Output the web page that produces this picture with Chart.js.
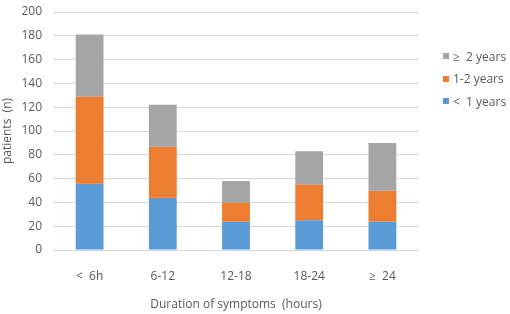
<!DOCTYPE html>
<html lang="en">
  <head>
    <meta charset="UTF-8" />
    <title>Duration of symptoms</title>
    <script src="https://cdn.jsdelivr.net/npm/chart.js"></script>
    <style>
      body { margin: 0; background: #fff; font-family: 'Open Sans', sans-serif; }
      #wrap { position: relative; width: 510px; height: 314px; }
      #legend { position: absolute; left: 443px; top: 45px; font-size: 12px; color: #595959; }
      .item { display: flex; align-items: center; height: 22.5px; white-space: pre; }
      .box { width: 6px; height: 6px; margin-right: 4px; }
    </style>
  </head>
  <body>
    <div id="wrap">
      <canvas id="chart" width="510" height="314"></canvas>
      <div id="legend"></div>
    </div>

    <script>
      const categories = ['<  6h', '6-12', '12-18', '18-24', '≥  24'];
      const lessThan1 = [56, 44, 24, 25, 24];
      const oneToTwo = [73, 43, 16, 30, 26];
      const twoPlus = [52, 35, 18, 28, 40];
      const yTicks = [0, 20, 40, 60, 80, 100, 120, 140, 160, 180, 200];

      const textColor = '#595959';
      const font = { family: "'Open Sans', sans-serif", size: 12 };

      const datasets = [
        { label: '<  1 years', data: lessThan1, backgroundColor: '#5B9BD5' },
        { label: '1-2 years', data: oneToTwo, backgroundColor: '#ED7D31' },
        { label: '≥  2 years', data: twoPlus, backgroundColor: '#A5A5A5' },
      ].map((d) => ({ ...d, barPercentage: 0.38, categoryPercentage: 1 }));

      new Chart(document.getElementById('chart'), {
        type: 'bar',
        data: { labels: categories, datasets },
        options: {
          responsive: false,
          animation: false,
          layout: { padding: { top: 12, right: 91, left: 0, bottom: 0 } },
          plugins: { legend: { display: false }, tooltip: { enabled: false } },
          scales: {
            x: {
              stacked: true,
              grid: { display: false },
              border: { display: false },
              ticks: { color: textColor, font, padding: 11, maxRotation: 0 },
              title: {
                display: true,
                text: 'Duration of symptoms  (hours)',
                color: textColor,
                font,
                padding: { top: 16, bottom: 2 },
              },
              afterFit: (s) => { s.height = 64; },
            },
            y: {
              stacked: true,
              min: 0,
              max: 200,
              afterBuildTicks: (s) => { s.ticks = yTicks.map((v) => ({ value: v })); },
              grid: { color: '#D9D9D9', drawTicks: false },
              border: { display: false },
              ticks: { color: textColor, font, padding: 11 },
              title: {
                display: true,
                text: 'patients  (n)',
                color: textColor,
                font,
                padding: { top: 0, bottom: 3 },
              },
              afterFit: (s) => {
                s.width = 53;
                s.paddingTop = 0;
                s.paddingBottom = 0;
              },
            },
          },
        },
      });

      // legend, top item is the last series
      const legend = document.getElementById('legend');
      datasets.slice().reverse().forEach((d) => {
        const item = document.createElement('div');
        item.className = 'item';
        item.innerHTML = `<span class="box" style="background:${d.backgroundColor}"></span>${d.label}`;
        legend.appendChild(item);
      });
    </script>
  </body>
</html>
